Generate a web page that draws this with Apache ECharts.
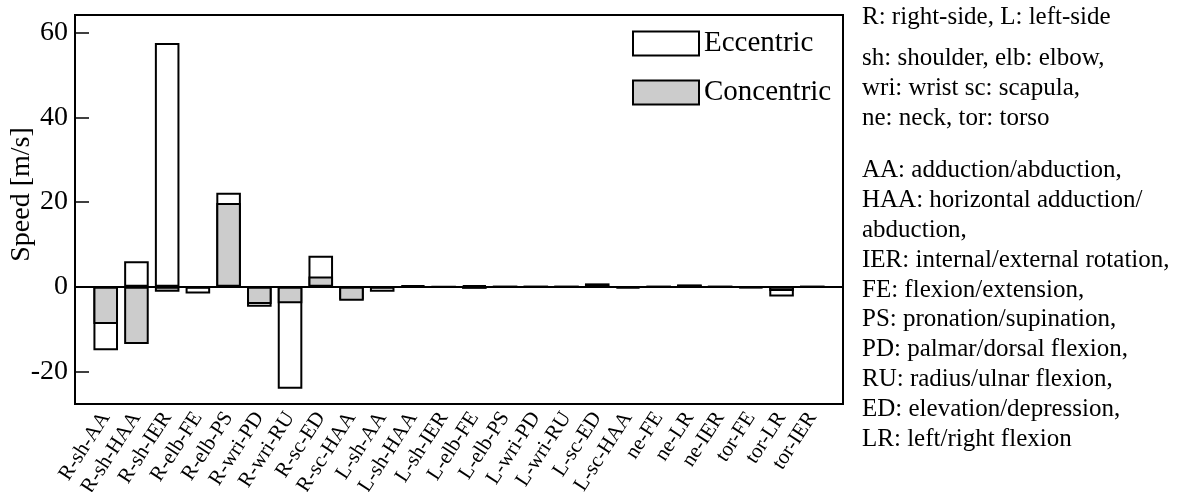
<!DOCTYPE html>
<html>
<head>
<meta charset="utf-8">
<script src="https://cdn.jsdelivr.net/npm/echarts@6/dist/echarts.min.js"></script>
<style>
  html, body { margin: 0; padding: 0; background: #fff; }
  #chart { width: 1185px; height: 492px; }
</style>
</head>
<body>
<div id="chart"></div>
<script>
const categories = [
  'R-sh-AA', 'R-sh-HAA', 'R-sh-IER', 'R-elb-FE', 'R-elb-PS', 'R-wri-PD', 'R-wri-RU', 'R-sc-ED', 'R-sc-HAA',
  'L-sh-AA', 'L-sh-HAA', 'L-sh-IER', 'L-elb-FE', 'L-elb-PS', 'L-wri-PD', 'L-wri-RU', 'L-sc-ED', 'L-sc-HAA',
  'ne-FE', 'ne-LR', 'ne-IER', 'tor-FE', 'tor-LR', 'tor-IER'
];
const eccentric = [-15.0, 6.0, 57.6, -1.6, 22.2, -4.7, -24.1, 7.3, -3.0, -1.2, 0.4, 0.0,
  0.3, 0.0, 0.0, 0.0, 0.8, -0.3, 0.0, 0.5, 0.0, -0.2, -2.3, 0.0];
const concentric = [-8.8, -13.5, -1.2, -0.2, 19.8, -4.1, -3.9, 2.4, -3.3, -0.2, 0.4, -0.1,
  -0.5, 0.0, 0.0, 0.0, 0.1, -0.4, 0.0, 0.5, 0.0, -0.3, -1.0, 0.0];
const yTicks = [-20, 0, 20, 40, 60];

const notes = [
  'R: right-side, L: left-side',
  'sh: shoulder, elb: elbow,\nwri: wrist sc: scapula,\nne: neck, tor: torso',
  'AA: adduction/abduction,\nHAA: horizontal adduction/\nabduction,\nIER: internal/external rotation,\n' +
  'FE: flexion/extension,\nPS: pronation/supination,\nPD: palmar/dorsal flexion,\n' +
  'RU: radius/ulnar flexion,\nED: elevation/depression,\nLR: left/right flexion'
];
const noteTops = [3, 44, 156];

const serif = '"Liberation Serif", "Times New Roman", serif';

// axis runs 0..25 with bars at 1..24, so pad the category list with blanks
const xData = [''].concat(categories, ['']);
const pad = (arr) => [null].concat(arr, [null]);

const chart = echarts.init(document.getElementById('chart'));

chart.setOption({
  animation: false,
  grid: {
    left: 75,
    right: 342,
    top: 15,
    bottom: 88,
    show: true,
    borderColor: '#000',
    borderWidth: 2,
    containLabel: false,
    outerBoundsMode: 'none',
  },
  legend: {
    orient: 'vertical',
    left: 627,
    top: 24,
    padding: 5,
    itemWidth: 66,
    itemHeight: 24,
    itemGap: 20,
    icon: 'rect',
    textStyle: { fontFamily: serif, fontSize: 29, color: '#000' },
    data: [
      { name: 'Eccentric', itemStyle: { color: '#fff', borderColor: '#000', borderWidth: 2 } },
      { name: 'Concentric', itemStyle: { color: '#cccccc', borderColor: '#000', borderWidth: 2 } },
    ],
  },
  xAxis: {
    type: 'category',
    data: xData,
    boundaryGap: false,
    axisLine: { onZero: false, lineStyle: { color: '#000', width: 2 } },
    axisTick: { show: false },
    axisLabel: {
      interval: 0,
      rotate: 57,
      margin: 10,
      color: '#000',
      fontFamily: serif,
      fontSize: 21,
    },
    splitLine: { show: false },
  },
  yAxis: {
    type: 'value',
    min: -27.7,
    max: 64.2,
    splitNumber: 5,
    name: 'Speed [m/s]',
    nameLocation: 'middle',
    nameGap: 39,
    nameMoveOverlap: false,
    nameTextStyle: { fontFamily: serif, fontSize: 28, color: '#000', padding: [0, 0, 0, 30] },
    axisLine: { show: true, lineStyle: { color: '#000', width: 2 } },
    axisTick: { show: true, inside: true, length: 14, lineStyle: { color: '#000', width: 1.5 } },
    axisLabel: {
      color: '#000',
      fontFamily: serif,
      fontSize: 28,
      margin: 7,
      formatter: (v) => (yTicks.includes(Math.round(v * 10) / 10) ? String(v) : ''),
    },
    splitLine: { show: false },
  },
  series: [
    {
      name: 'Eccentric',
      type: 'bar',
      data: pad(eccentric),
      barWidth: '80%',
      barGap: '-100%',
      itemStyle: { color: '#fff', borderColor: '#000', borderWidth: 2 },
    },
    {
      name: 'Concentric',
      type: 'bar',
      data: pad(concentric),
      barWidth: '80%',
      barGap: '-100%',
      itemStyle: { color: '#cccccc', borderColor: '#000', borderWidth: 2 },
      markLine: {
        silent: true,
        symbol: 'none',
        label: { show: false },
        lineStyle: { color: '#000', type: 'solid', width: 2 },
        data: [{ yAxis: 0 }],
      },
    },
  ],
  graphic: notes.map((text, i) => ({
    type: 'text',
    left: 862,
    top: noteTops[i],
    style: {
      text: text,
      font: '25px ' + serif,
      fill: '#000',
      lineHeight: 29.8,
    },
  })),
});
</script>
</body>
</html>
